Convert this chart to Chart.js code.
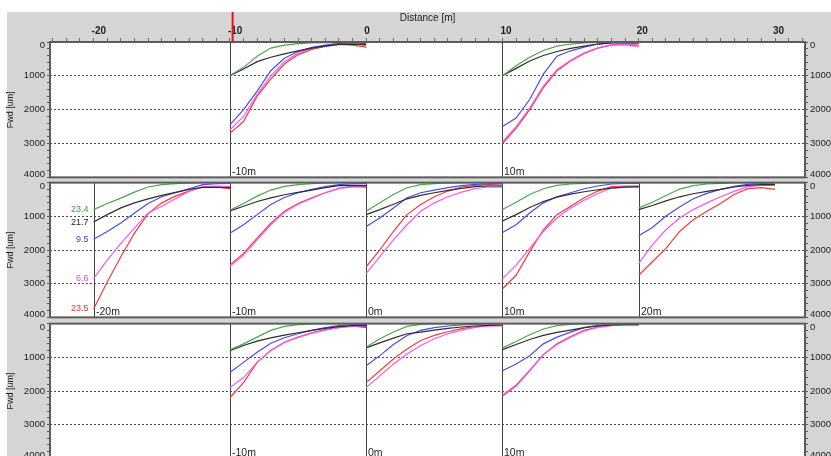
<!DOCTYPE html>
<html>
<head>
<meta charset="utf-8">
<script src="https://cdn.jsdelivr.net/npm/chart.js@4.4.1/dist/chart.umd.min.js"></script>
<style>
html, body { margin: 0; padding: 0; background: #fff; overflow: hidden; }
#frame { position: relative; width: 831px; height: 456px; overflow: hidden; }
#back { position: absolute; left: 7px; top: 12px; right: 0; bottom: 0; background: #d5d5d5; }
canvas { position: absolute; left: 0; }
</style>
</head>
<body>
<div id="frame">
  <div id="back"></div>
  <canvas id="row1" width="831" height="186" style="top:0px"></canvas>
  <canvas id="row2" width="831" height="152" style="top:174px"></canvas>
  <canvas id="row3" width="831" height="152" style="top:315px"></canvas>
</div>
<script>
// distance from the start of each panel [m]
var offsets = [0, 1, 2, 3, 4, 5, 6, 7, 8, 9, 10];
var seriesNames = ['23.4', '21.7', '9.5', '6.6', '23.5'];
var xTicks = [-20, -10, 0, 10, 20, 30];
var yTicks = [0, 1000, 2000, 3000, 4000];
var cursorAt = -9.8;

// Fwd [um], series order: green, black, blue, magenta, red
var row1Starts = [-10, 10];
var row1_m10 = [
    [1000, 750, 420, 180, 90, 50, 30, 20, 10, 0, 10],
    [1000, 800, 580, 450, 350, 260, 180, 120, 70, 60, 80],
    [2450, 2000, 1450, 850, 480, 280, 160, 90, 40, 20, 50],
    [2600, 2200, 1550, 1000, 580, 330, 190, 100, 50, 60, 100],
    [2700, 2350, 1600, 1100, 650, 380, 220, 130, 70, 90, 150]
];
var row1_p10 = [
    [1000, 700, 450, 250, 120, 60, 30, 10, 0, 0, 0],
    [1000, 780, 560, 400, 280, 190, 120, 60, 30, 20, 30],
    [2500, 2250, 1700, 950, 420, 260, 150, 60, 20, 20, 30],
    [2950, 2500, 1950, 1300, 820, 540, 320, 170, 80, 60, 80],
    [3000, 2550, 2000, 1350, 850, 560, 340, 180, 90, 80, 130]
];

var row2Starts = [-20, -10, 0, 10, 20];
var row2_m20 = [
    [800, 620, 460, 280, 130, 60, 30, 10, 0, 0, 0],
    [1170, 950, 750, 600, 480, 380, 290, 200, 140, 140, 150],
    [1680, 1450, 1200, 900, 620, 420, 300, 180, 60, 30, 20],
    [2850, 2300, 1800, 1350, 900, 700, 480, 260, 120, 100, 110],
    [3750, 2950, 2200, 1500, 920, 600, 400, 250, 130, 130, 180]
];
var row2_m10 = [
    [820, 620, 400, 220, 110, 60, 30, 10, 0, 0, 0],
    [840, 700, 560, 450, 360, 290, 220, 150, 90, 80, 90],
    [1500, 1250, 950, 650, 440, 300, 200, 120, 60, 30, 30],
    [2480, 2150, 1700, 1250, 880, 640, 470, 300, 170, 110, 110],
    [2450, 2100, 1650, 1200, 850, 620, 450, 300, 170, 120, 130]
];
var row2_0 = [
    [850, 600, 350, 150, 60, 30, 10, 0, 0, 0, 0],
    [950, 800, 640, 480, 380, 300, 230, 170, 120, 100, 100],
    [1300, 1050, 750, 450, 300, 220, 150, 90, 50, 30, 30],
    [2700, 2200, 1700, 1250, 850, 600, 420, 280, 180, 130, 130],
    [2500, 2000, 1450, 950, 650, 420, 250, 130, 80, 60, 70]
];
var row2_p10 = [
    [800, 580, 350, 180, 80, 40, 20, 0, 0, 0, 0],
    [1140, 950, 740, 560, 430, 340, 270, 210, 160, 130, 120],
    [1480, 1250, 900, 600, 420, 300, 180, 100, 40, 20, 20],
    [2850, 2450, 1950, 1450, 1050, 750, 520, 320, 160, 120, 130],
    [3150, 2750, 2050, 1400, 950, 700, 450, 250, 120, 100, 100]
];
var row2_p20 = [
    [750, 580, 380, 190, 90, 40, 20, 0, 0, 0, 0],
    [800, 680, 540, 420, 330, 260, 200, 130, 80, 60, 60],
    [1580, 1330, 990, 720, 480, 320, 200, 110, 50, 30, 40],
    [2400, 1850, 1400, 1050, 800, 600, 420, 260, 120, 80, 80],
    [2750, 2350, 1950, 1450, 1100, 850, 620, 350, 180, 150, 200]
];

var row3Starts = [-10, 0, 10];
var row3_m10 = [
    [780, 600, 400, 200, 80, 30, 10, 0, 0, 0, 0],
    [800, 650, 520, 420, 340, 270, 200, 140, 90, 60, 60],
    [1450, 1150, 850, 580, 420, 300, 200, 120, 60, 30, 30],
    [1900, 1600, 1150, 800, 560, 410, 290, 190, 120, 80, 80],
    [2200, 1750, 1150, 800, 550, 400, 270, 180, 110, 70, 120]
];
var row3_0 = [
    [700, 450, 250, 80, 20, 0, 0, 0, 0, 0, 0],
    [720, 570, 430, 300, 250, 190, 140, 100, 70, 50, 40],
    [1250, 950, 620, 350, 200, 120, 70, 40, 20, 10, 10],
    [1900, 1550, 1200, 900, 650, 450, 300, 190, 110, 70, 60],
    [1750, 1400, 1050, 750, 500, 350, 240, 150, 90, 60, 60]
];
var row3_p10 = [
    [720, 530, 330, 160, 60, 20, 0, 0, 0, 0, 0],
    [770, 620, 470, 350, 260, 190, 120, 70, 40, 30, 30],
    [1400, 1200, 950, 600, 400, 250, 120, 50, 20, 10, 10],
    [2120, 1820, 1380, 920, 620, 400, 220, 110, 60, 40, 40],
    [2150, 1850, 1400, 920, 600, 380, 200, 100, 50, 30, 30]
];

var FONT = "'Liberation Sans', Arial, sans-serif";
var colors = ['#4aa84a', '#2e2e2e', '#4b4bf0', '#f25af2', '#f43c3c'];
var labelColors = ['#3d9e3d', '#222222', '#3c3cf0', '#e845e8', '#f03030'];
var X_MIN = -23.2, X_MAX = 32.2;

function yAxis(pos) {
    var left = pos === 'left';
    return {
        type: 'linear', position: pos, reverse: true, min: 0, max: 4000,
        afterFit: function (s) { s.width = left ? 50 : 26; },
        ticks: {
            stepSize: 200, autoSkip: false, includeBounds: false, padding: 2, color: '#1e1e1e',
            font: { family: FONT, size: 9.5, lineHeight: 0.7 },
            callback: function (v) {
                if (yTicks.indexOf(v) < 0) return '';
                // nudge the end labels inwards like the original
                if (v === yTicks[0]) return ['', String(v)];
                if (v === yTicks[yTicks.length - 1]) return [String(v), ''];
                return String(v);
            }
        },
        grid: {
            drawOnChartArea: left,
            color: function (c) {
                var v = c.tick ? c.tick.value : -1;
                return (yTicks.indexOf(v) > 0 && v < 4000) ? '#4a4a4a' : 'rgba(0,0,0,0)';
            },
            tickColor: '#5a5a5a', tickLength: 3, lineWidth: 1
        },
        border: { display: false, dash: [2, 2] },
        title: { display: left, text: 'Fwd [um]', color: '#222', font: { family: FONT, size: 9 }, padding: { top: 5, bottom: 0 } }
    };
}

function rowPlugin(starts, panels, withLabels, withCursor) {
    return {
        id: 'rowDecor',
        beforeDraw: function (chart) {
            var a = chart.chartArea, ctx = chart.ctx;
            ctx.save();
            ctx.fillStyle = '#ffffff';
            ctx.fillRect(a.left, a.top, a.right - a.left, a.bottom - a.top);
            ctx.restore();
        },
        beforeDatasetsDraw: function (chart) {
            var a = chart.chartArea, ctx = chart.ctx, xs = chart.scales.x;
            ctx.save();
            ctx.strokeStyle = '#444';
            ctx.lineWidth = 1;
            ctx.fillStyle = '#1e1e1e';
            ctx.font = '10.5px ' + FONT;
            ctx.textAlign = 'left';
            ctx.textBaseline = 'middle';
            starts.forEach(function (s) {
                var px = Math.round(xs.getPixelForValue(s)) + 0.5;
                ctx.beginPath();
                ctx.moveTo(px, a.top);
                ctx.lineTo(px, a.bottom);
                ctx.stroke();
                ctx.fillText(s + 'm', px + 1.5, a.bottom - 5);
            });
            ctx.restore();
        },
        afterDraw: function (chart) {
            var a = chart.chartArea, ctx = chart.ctx, xs = chart.scales.x, ys = chart.scales.y;
            ctx.save();
            ctx.strokeStyle = '#5c5c5c';
            ctx.lineWidth = 2;
            ctx.strokeRect(a.left, a.top, a.right - a.left, a.bottom - a.top);
            if (withLabels) {
                var px = xs.getPixelForValue(starts[0]);
                ctx.font = '9px ' + FONT;
                ctx.textAlign = 'right';
                ctx.textBaseline = 'middle';
                panels[0].forEach(function (ser, i) {
                    ctx.fillStyle = labelColors[i];
                    ctx.fillText(seriesNames[i], px - 5, ys.getPixelForValue(ser[0]));
                });
            }
            if (withCursor) {
                var cx = xs.getPixelForValue(cursorAt);
                ctx.strokeStyle = '#ee1111';
                ctx.lineWidth = 2;
                ctx.beginPath();
                ctx.moveTo(cx, 12);
                ctx.lineTo(cx, a.top);
                ctx.stroke();
            }
            ctx.restore();
        }
    };
}

function makeRow(id, starts, panels, showX, padTop, withLabels, withCursor) {
    var datasets = [];
    starts.forEach(function (start, p) {
        panels[p].forEach(function (ys, s) {
            datasets.push({
                label: seriesNames[s],
                data: ys.map(function (y, k) { return { x: start + offsets[k], y: y }; }),
                borderColor: colors[s],
                borderWidth: 1.2,
                pointRadius: 0,
                tension: 0,
                fill: false
            });
        });
    });
    return new Chart(document.getElementById(id), {
        type: 'line',
        data: { datasets: datasets },
        options: {
            responsive: false,
            animation: false,
            layout: { padding: { top: padTop, bottom: 8, left: 0, right: 0 } },
            plugins: { legend: { display: false }, tooltip: { enabled: false } },
            scales: {
                x: {
                    type: 'linear', position: 'top', display: showX, min: X_MIN, max: X_MAX,
                    afterFit: function (s) { s.height = showX ? 30 : 0; },
                    ticks: {
                        stepSize: 1, autoSkip: false, includeBounds: false, maxRotation: 0,
                        align: 'start', labelOffset: -2, padding: 1, color: '#1e1e1e',
                        font: { family: FONT, size: 10, weight: 'bold' },
                        callback: function (v) { return xTicks.indexOf(v) >= 0 ? String(v) : ''; }
                    },
                    grid: { drawOnChartArea: false, tickLength: 4, tickColor: '#6a6a6a' },
                    border: { display: false },
                    title: { display: true, text: 'Distance [m]', color: '#222', font: { family: FONT, size: 10 }, padding: { top: 0, bottom: 0 } }
                },
                y: yAxis('left'),
                y2: yAxis('right')
            }
        },
        plugins: [rowPlugin(starts, panels, withLabels, withCursor)]
    });
}

makeRow('row1', row1Starts, [row1_m10, row1_p10], true, 12, false, true);
makeRow('row2', row2Starts, [row2_m20, row2_m10, row2_0, row2_p10, row2_p20], false, 8, true, false);
makeRow('row3', row3Starts, [row3_m10, row3_0, row3_p10], false, 8, false, false);
</script>
</body>
</html>
